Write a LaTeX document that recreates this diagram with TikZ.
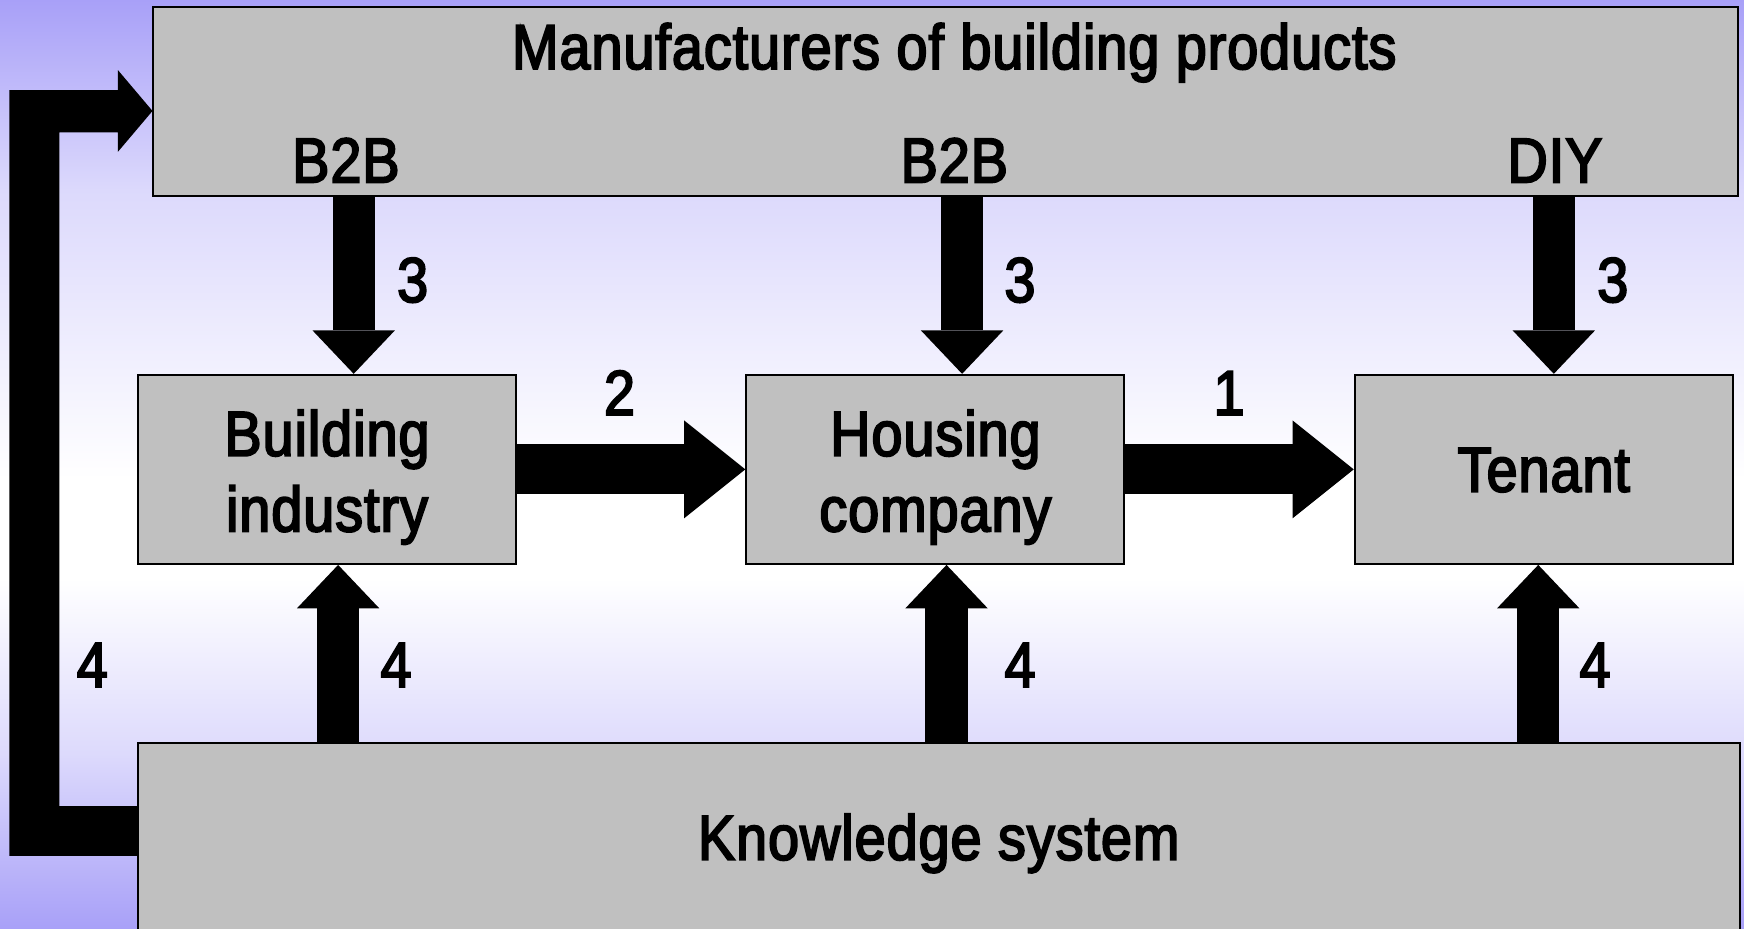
\documentclass[tikz,border=0pt]{standalone}
\usepackage{fontspec}
\setmainfont[FakeStretch=0.88,FakeBold=3,LetterSpace=1.5]{Liberation Sans}
\usetikzlibrary{arrows.meta,calc}
\definecolor{bgpurple}{RGB}{168,160,248}
\definecolor{bgmid}{RGB}{220,217,252}
\definecolor{boxgray}{RGB}{192,192,192}
\begin{document}
\begin{tikzpicture}[x=0.5pt,y=-0.5pt,
  txt/.style={font=\fontsize{28.5}{34}\selectfont},
  box/.style={draw=black, line width=0.9pt, fill=boxgray, inner sep=0pt},
  lbl/.style={txt, inner sep=0pt, anchor=base},
  btxt/.style={txt, inner sep=0pt, align=center},
  varr/.style={line width=19pt, -{Triangle[length=19.5pt,width=37pt,line width=0pt]}},
  harr/.style={line width=22.5pt, -{Triangle[length=27.5pt,width=44pt,line width=0pt]}},
]
\clip (0,0) rectangle (1568,835);
\shade[top color=bgpurple,bottom color=bgmid] (0,0) rectangle (1568,171);
\shade[top color=bgmid,bottom color=white] (0,170) rectangle (1568,431);
\fill[white] (0,430) rectangle (1568,521);
\shade[top color=white,bottom color=bgmid] (0,520) rectangle (1568,681);
\shade[top color=bgmid,bottom color=bgpurple] (0,680) rectangle (1568,835);

% boxes
\node[box, minimum width=712.5pt, minimum height=85pt] (man) at (850.5,91) {};
\node[box, minimum width=170pt, minimum height=85pt] (bi) at (294,422) {};
\node[box, minimum width=170pt, minimum height=85pt] (hc) at (841,422) {};
\node[box, minimum width=170pt, minimum height=85pt] (ten) at (1388,422) {};
\node[box, minimum width=720pt, minimum height=100pt] (ks) at (844,767.7) {};

% texts in the boxes
\node[btxt] (bit) at ([yshift=-3.5pt]bi.center) {Building\\industry};
\node[btxt] (hct) at ([yshift=-3.5pt]hc.center) {Housing\\company};
\node[lbl] (tent) at (1388,442) {Tenant};
\node[lbl] (mant) at (858,62) {Manufacturers of building products};
\node[lbl] (b2ba) at (311,164) {B2B};
\node[lbl] (b2bb) at (858,164) {B2B};
\node[lbl] (diy) at (1398,164) {DIY};
\node[lbl] (kst) at (844,773) {Knowledge system};

% down arrows
\coordinate (d1) at ([xshift=12pt]bi.north);
\coordinate (d2) at ([xshift=12pt]hc.north);
\coordinate (d3) at ([xshift=4.5pt]ten.north);
\draw[varr] (d1 |- man.south) -- (d1);
\draw[varr] (d2 |- man.south) -- (d2);
\draw[varr] (d3 |- man.south) -- (d3);

% up arrows
\coordinate (u1) at ([xshift=5pt]bi.south);
\coordinate (u2) at ([xshift=5pt]hc.south);
\coordinate (u3) at ([xshift=-2.5pt]ten.south);
\draw[varr] (u1 |- ks.north) -- (u1);
\draw[varr] (u2 |- ks.north) -- (u2);
\draw[varr] (u3 |- ks.north) -- (u3);

% horizontal arrows
\draw[harr] (bi.east) -- (hc.west);
\draw[harr] (hc.east) -- (ten.west);

% feedback arrow
\fill[black] (ks.west |- 0,724.7) -- (53.4,724.7) -- (53.4,119) -- (106,119) -- (106,136.5)
  -- (man.west |- 0,99.75) -- (106,63) -- (106,81) -- (8.4,81) -- (8.4,769.4)
  -- (ks.west |- 0,769.4) -- cycle;

% number labels
\node[lbl] (n3a) at (371,271.5) {3};
\node[lbl] (n3b) at (917,271.5) {3};
\node[lbl] (n3c) at (1450,271.5) {3};
\node[lbl] (n2) at (557,373) {2};
\node[lbl] (n1) at (1105,373) {1};
\node[lbl] (n4l) at (83,617.5) {4};
\node[lbl] (n4a) at (356,617.5) {4};
\node[lbl] (n4b) at (917,617.5) {4};
\node[lbl] (n4c) at (1434,617.5) {4};
\end{tikzpicture}
\end{document}
